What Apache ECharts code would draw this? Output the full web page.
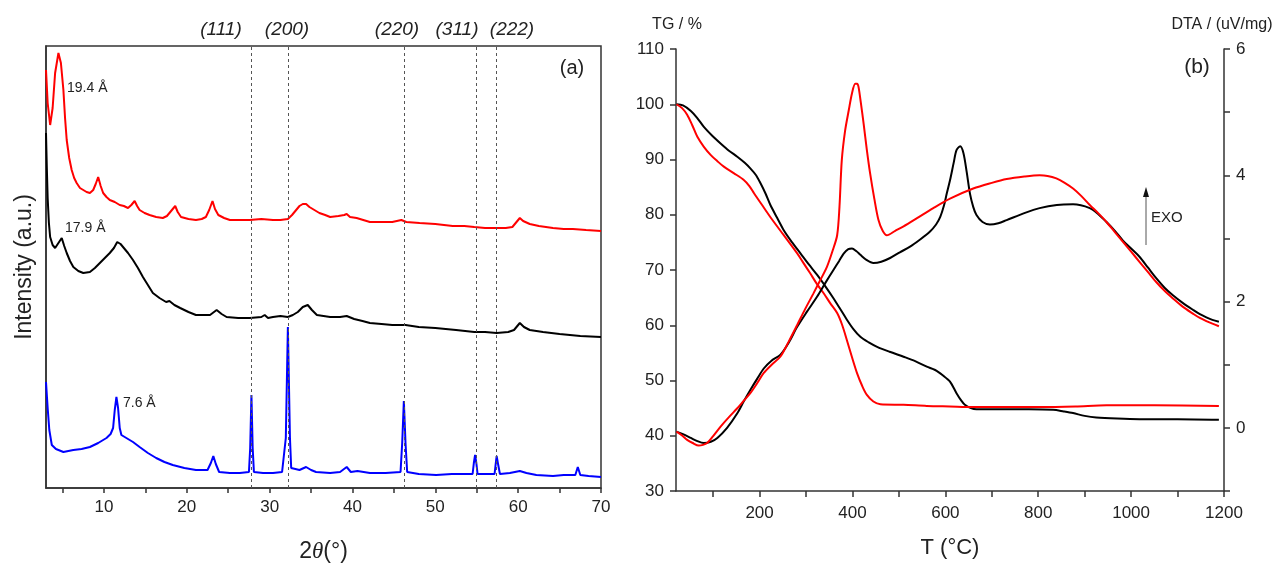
<!DOCTYPE html>
<html>
<head>
	<meta charset="UTF-8">
	<title>XRD and TG/DTA</title>
	<script src="https://cdn.jsdelivr.net/npm/echarts@6/dist/echarts.min.js"></script>
	<style>
		html, body { margin: 0; padding: 0; background: #fff; }
		#chart { width: 1285px; height: 574px; }
	</style>
</head>
<body>
<div id="chart"></div>
<script type="text/javascript">
	// (a) XRD patterns, [2theta, intensity a.u.] - curves are stacked by offset
	var xrdRed = [[3.0,418],[3.2,385],[3.5,363],[3.8,380],[4.1,415],[4.5,435],[4.8,425],[5.1,398],[5.3,370],[5.5,348],[5.8,330],[6.1,318],[6.4,310],[6.7,305],[7.1,300],[7.5,298],[7.9,296],[8.3,295],[8.7,298],[9.0,304],[9.3,311],[9.6,302],[9.9,295],[10.3,291],[10.7,288],[11.3,286],[11.9,283],[12.4,282],[12.9,280],[13.3,283],[13.7,287],[14.0,282],[14.3,278],[14.9,275],[15.5,273],[16.3,271],[17.1,270],[17.6,272],[17.9,275],[18.3,279],[18.6,282],[18.9,276],[19.3,271],[20.2,269],[21.1,268],[21.8,269],[22.3,271],[22.7,278],[23.1,287],[23.4,279],[23.8,273],[24.5,270],[25.2,268],[26.4,268],[27.6,268],[29.0,269],[30.4,268],[31.3,268],[32.2,269],[32.7,273],[33.2,278],[33.6,282],[34.0,284],[34.4,284],[34.8,281],[35.4,278],[36.0,275],[36.7,273],[37.3,271],[38.3,272],[39.0,273],[39.3,274],[39.7,271],[40.5,270],[41.3,268],[42.1,266],[43.5,266],[44.8,266],[45.9,268],[46.5,266],[48.1,265],[50.0,264],[52.1,262],[53.5,262],[54.7,261],[56.0,260],[57.4,260],[58.5,260],[59.3,261],[59.8,266],[60.2,270],[60.6,267],[61.4,264],[62.5,262],[64.2,260],[65.5,259],[66.6,259],[68.2,258],[70.0,257]];
	var xrdBlack = [[3.0,355],[3.1,320],[3.2,290],[3.35,265],[3.5,251],[3.8,243],[4.1,240],[4.5,245],[4.9,250],[5.2,242],[5.5,235],[5.9,227],[6.3,221],[6.9,217],[7.5,215],[8.3,216],[8.9,220],[9.5,225],[10.1,230],[10.7,235],[11.2,240],[11.6,246],[12.0,244],[12.3,241],[12.9,235],[13.5,228],[14.1,220],[14.7,211],[15.3,203],[15.9,195],[16.7,190],[17.5,186],[17.9,187],[18.5,183],[19.2,180],[20.2,176],[21.1,173],[22.0,173],[22.8,173],[23.6,178],[24.2,174],[24.8,171],[26.2,170],[27.6,170],[29.0,171],[29.4,173],[29.8,170],[30.4,171],[31.3,172],[32.2,171],[32.8,173],[33.4,176],[34.0,181],[34.6,183],[35.1,178],[35.7,173],[36.5,172],[37.3,171],[38.5,171],[39.3,172],[40.2,169],[41.2,167],[42.1,165],[43.5,164],[44.8,163],[46.4,163],[48.0,161],[50.0,160],[52.5,158],[54.7,156],[56.0,156],[57.4,155],[58.8,156],[59.5,158],[60.2,165],[60.7,161],[61.4,158],[63.0,156],[65.0,154],[67.5,152],[70.0,151]];
	var xrdBlue = [[3.0,106],[3.2,80],[3.4,58],[3.7,43],[4.2,39],[5.1,36],[5.7,37],[6.3,38],[7.3,39],[8.3,41],[9.3,45],[10.3,50],[10.8,54],[11.1,60],[11.3,78],[11.5,91],[11.7,80],[11.9,60],[12.1,53],[12.7,50],[13.5,46],[14.3,41],[15.3,35],[16.3,30],[17.3,26],[18.3,23],[19.7,20],[21.1,18],[22.5,18],[22.9,25],[23.2,32],[23.5,24],[23.9,16],[25.2,15],[26.4,15],[27.5,16],[27.65,40],[27.8,93],[27.95,40],[28.1,16],[29.2,15],[30.4,15],[31.5,16],[31.95,50],[32.2,161],[32.45,50],[32.6,20],[33.6,18],[34.4,21],[35.0,18],[35.6,16],[37.3,15],[38.5,16],[39.3,21],[39.8,16],[40.6,17],[42.1,15],[44.0,15],[45.8,16],[46.0,45],[46.2,87],[46.4,45],[46.6,16],[48.0,14],[50.1,13],[52.0,14],[54.5,14],[54.65,25],[54.8,33],[54.95,25],[55.1,14],[56.5,14],[57.15,14],[57.3,25],[57.4,32],[57.55,25],[57.8,14],[59.0,15],[60.2,17],[61.0,15],[62.2,13],[64.2,12],[65.5,13],[66.9,13],[67.2,21],[67.5,13],[68.5,12],[70.0,11]];
	var xrdXTicks = [10, 20, 30, 40, 50, 60, 70];
	var xrdXMinor = [5, 10, 15, 20, 25, 30, 35, 40, 45, 50, 55, 60, 65, 70];
	var hklLines = [27.8, 32.3, 46.2, 54.9, 57.4];
	var hklNames = ['(111)', '(200)', '(220)', '(311)', '(222)'];
	var hklLabelX = [221, 287, 397, 457, 512];

	// (b) TG / DTA, [T degC, value]
	var tgBlack = [[21,100.0],[35,99.8],[52,98.8],[65,97.6],[80,95.9],[98,94.3],[116,92.9],[134,91.6],[152,90.5],[168,89.4],[180,88.4],[192,87.2],[202,85.7],[213,83.8],[223,81.8],[238,79.4],[252,77.2],[270,75.0],[288,73.0],[306,71.0],[324,69.1],[342,67.0],[359,64.9],[374,62.9],[388,61.0],[402,59.3],[417,57.9],[435,56.9],[453,56.1],[480,55.2],[510,54.3],[535,53.5],[560,52.5],[578,51.9],[595,50.9],[610,49.8],[624,47.7],[634,46.4],[642,45.6],[655,45.0],[667,44.8],[700,44.8],[732,44.8],[780,44.8],[832,44.7],[855,44.4],[875,44.1],[900,43.6],[925,43.3],[970,43.1],[1018,43.0],[1100,43.0],[1189,42.9]];
	var tgRed = [[21,100],[33,99.3],[44,98.1],[55,96.2],[66,94.1],[80,92.3],[95,90.8],[109,89.7],[123,88.7],[145,87.5],[166,86.3],[178,85.2],[188,83.9],[205,81.8],[223,79.6],[252,76.3],[281,73.0],[295,71.2],[309,69.4],[324,67.4],[338,65.8],[352,64.0],[367,62.2],[378,60.0],[388,57.3],[399,54.2],[410,51.3],[421,49.0],[431,47.4],[445,46.2],[460,45.7],[510,45.6],[560,45.4],[610,45.3],[660,45.2],[730,45.2],[803,45.2],[880,45.3],[947,45.5],[1050,45.5],[1189,45.4]];
	var dtaBlack = [[21,-0.06],[35,-0.1],[52,-0.16],[66,-0.21],[80,-0.24],[95,-0.22],[109,-0.16],[130,0.0],[152,0.23],[166,0.42],[180,0.60],[195,0.78],[209,0.94],[225,1.06],[245,1.16],[262,1.34],[281,1.60],[302,1.84],[324,2.08],[342,2.30],[359,2.50],[371,2.64],[381,2.76],[391,2.83],[399,2.84],[408,2.80],[417,2.74],[430,2.66],[445,2.61],[462,2.63],[481,2.69],[502,2.78],[524,2.87],[545,2.98],[567,3.11],[580,3.22],[589,3.34],[597,3.52],[603,3.71],[610,3.92],[618,4.20],[624,4.40],[632,4.46],[639,4.35],[646,4.05],[653,3.71],[660,3.50],[667,3.37],[680,3.26],[696,3.22],[714,3.24],[732,3.29],[770,3.40],[803,3.48],[840,3.53],[875,3.54],[911,3.48],[930,3.38],[947,3.26],[965,3.12],[982,2.97],[1000,2.84],[1018,2.71],[1036,2.54],[1054,2.37],[1072,2.22],[1090,2.10],[1111,1.98],[1133,1.87],[1148,1.80],[1162,1.75],[1175,1.71],[1189,1.68]];
	var dtaRed = [[21,-0.06],[33,-0.12],[44,-0.19],[56,-0.24],[69,-0.28],[78,-0.27],[87,-0.24],[100,-0.13],[116,0.02],[134,0.17],[152,0.31],[166,0.43],[180,0.55],[195,0.71],[209,0.87],[226,1.00],[245,1.13],[263,1.37],[281,1.63],[298,1.88],[316,2.13],[330,2.33],[345,2.55],[357,2.80],[367,3.05],[372,3.50],[377,4.24],[384,4.70],[392,5.03],[399,5.30],[406,5.45],[410,5.45],[413,5.40],[418,5.15],[424,4.82],[431,4.40],[438,4.03],[447,3.63],[456,3.29],[465,3.12],[474,3.05],[492,3.12],[510,3.19],[539,3.32],[574,3.48],[610,3.63],[660,3.79],[700,3.88],[732,3.94],[770,3.98],[803,4.00],[820,3.99],[839,3.95],[857,3.88],[875,3.79],[893,3.67],[911,3.53],[929,3.40],[947,3.26],[965,3.10],[982,2.95],[1000,2.79],[1018,2.63],[1036,2.47],[1054,2.31],[1072,2.17],[1090,2.05],[1111,1.92],[1133,1.81],[1148,1.74],[1162,1.69],[1175,1.65],[1189,1.61]];
	var tXTicks = [200, 400, 600, 800, 1000, 1200];
	var tXMinor = [100, 200, 300, 400, 500, 600, 700, 800, 900, 1000, 1100, 1200];

	var font = 'Liberation Sans, Arial, sans-serif';
	var ink = '#222';
	var axisLn = {show: true, onZero: false, lineStyle: {color: '#333', width: 1.5}};
	var plain = function (v) { return String(v); };

	var chart = echarts.init(document.getElementById('chart'));

	// hkl labels above panel (a)
	var graphics = [];
	for (var i = 0; i < hklNames.length; i++) {
		graphics.push({type: 'text', x: hklLabelX[i], y: 30, style: {text: hklNames[i], fill: ink, font: 'italic 19px ' + font, textAlign: 'center', textVerticalAlign: 'middle'}});
	}
	graphics.push(
		{type: 'text', x: 572, y: 68, style: {text: '(a)', fill: ink, font: '20px ' + font, textAlign: 'center', textVerticalAlign: 'middle'}},
		{type: 'text', x: 67, y: 88, style: {text: '19.4 Å', fill: ink, font: '14px ' + font, textVerticalAlign: 'middle'}},
		{type: 'text', x: 65, y: 228, style: {text: '17.9 Å', fill: ink, font: '14px ' + font, textVerticalAlign: 'middle'}},
		{type: 'text', x: 123, y: 403, style: {text: '7.6 Å', fill: ink, font: '14px ' + font, textVerticalAlign: 'middle'}},
		{type: 'text', x: 677, y: 25, style: {text: 'TG / %', fill: ink, font: '16px ' + font, textAlign: 'center', textVerticalAlign: 'middle'}},
		{type: 'text', x: 1222, y: 25, style: {text: 'DTA / (uV/mg)', fill: ink, font: '16px ' + font, textAlign: 'center', textVerticalAlign: 'middle'}},
		{type: 'text', x: 1197, y: 67, style: {text: '(b)', fill: ink, font: '21px ' + font, textAlign: 'center', textVerticalAlign: 'middle'}},
		{type: 'text', x: 1151, y: 218, style: {text: 'EXO', fill: ink, font: '15px ' + font, textVerticalAlign: 'middle'}},
		{type: 'line', shape: {x1: 1146, y1: 245, x2: 1146, y2: 195}, style: {stroke: '#555', lineWidth: 1}},
		{type: 'polygon', shape: {points: [[1146, 187], [1143, 197], [1149, 197]]}, style: {fill: '#111'}}
	);

	var option = {
		animation: false,
		textStyle: {fontFamily: font},
		graphic: graphics,
		grid: [
			{left: 46, top: 46, width: 555, height: 442, show: true, borderColor: '#333', borderWidth: 1.5},
			{left: 676, top: 49, width: 548, height: 442}
		],
		xAxis: [
			{
				type: 'value', gridIndex: 0, min: 3, max: 70,
				axisLine: axisLn,
				axisTick: {customValues: xrdXMinor, length: 5, lineStyle: {color: '#333', width: 1.5}},
				axisLabel: {customValues: xrdXTicks, fontSize: 17, color: ink, margin: 11, formatter: plain},
				splitLine: {show: false},
				name: '2{i|θ}(°)', nameLocation: 'middle', nameGap: 52,
				nameTextStyle: {fontSize: 23, color: ink, rich: {i: {fontSize: 23, fontStyle: 'italic', fontFamily: 'Liberation Serif', color: ink}}}
			},
			{
				type: 'value', gridIndex: 1, min: 20, max: 1200,
				axisLine: axisLn,
				axisTick: {customValues: tXMinor, length: 6, lineStyle: {color: '#333', width: 1.5}},
				axisLabel: {customValues: tXTicks, fontSize: 17, color: ink, margin: 14, formatter: plain},
				splitLine: {show: false},
				name: 'T (°C)', nameLocation: 'middle', nameGap: 46,
				nameTextStyle: {fontSize: 22, color: ink}
			}
		],
		yAxis: [
			{
				type: 'value', gridIndex: 0, min: 0, max: 442,
				axisLine: axisLn, axisTick: {show: false}, axisLabel: {show: false},
				splitLine: {show: false},
				name: 'Intensity (a.u.)', nameLocation: 'middle', nameGap: 10,
				nameTextStyle: {fontSize: 23, color: ink}
			},
			{
				type: 'value', gridIndex: 1, position: 'left', min: 30, max: 110, interval: 10,
				axisLine: axisLn,
				axisTick: {show: true, length: 6, lineStyle: {color: '#333', width: 1.5}},
				axisLabel: {fontSize: 17, color: ink, margin: 12},
				splitLine: {show: false}
			},
			{
				type: 'value', gridIndex: 1, position: 'right', min: -1, max: 6, interval: 1,
				axisLine: axisLn,
				axisTick: {show: true, length: 6, lineStyle: {color: '#333', width: 1.5}},
				axisLabel: {fontSize: 17, color: ink, margin: 12, formatter: function (v) {
					return (v >= 0 && v % 2 === 0) ? String(v) : '';
				}},
				splitLine: {show: false}
			}
		],
		series: [
			{
				name: 'red', type: 'line', xAxisIndex: 0, yAxisIndex: 0, data: xrdRed,
				showSymbol: false, lineStyle: {color: '#ff0000', width: 2}, z: 3,
				markLine: {
					silent: true, symbol: ['none', 'none'], label: {show: false},
					lineStyle: {type: [3, 3], color: '#555', width: 1},
					data: hklLines.map(function (v) { return {xAxis: v}; })
				}
			},
			{name: 'black', type: 'line', xAxisIndex: 0, yAxisIndex: 0, data: xrdBlack, showSymbol: false, lineStyle: {color: '#000', width: 2}, z: 3},
			{name: 'blue', type: 'line', xAxisIndex: 0, yAxisIndex: 0, data: xrdBlue, showSymbol: false, lineStyle: {color: '#0000ff', width: 2}, z: 3},
			{name: 'TG black', type: 'line', xAxisIndex: 1, yAxisIndex: 1, data: tgBlack, showSymbol: false, smooth: 0.3, lineStyle: {color: '#000', width: 2}},
			{name: 'TG red', type: 'line', xAxisIndex: 1, yAxisIndex: 1, data: tgRed, showSymbol: false, smooth: 0.3, lineStyle: {color: '#ff0000', width: 2}},
			{name: 'DTA black', type: 'line', xAxisIndex: 1, yAxisIndex: 2, data: dtaBlack, showSymbol: false, smooth: 0.3, lineStyle: {color: '#000', width: 2}},
			{name: 'DTA red', type: 'line', xAxisIndex: 1, yAxisIndex: 2, data: dtaRed, showSymbol: false, smooth: 0.3, lineStyle: {color: '#ff0000', width: 2}}
		]
	};
	chart.setOption(option);
</script>
</body>
</html>
